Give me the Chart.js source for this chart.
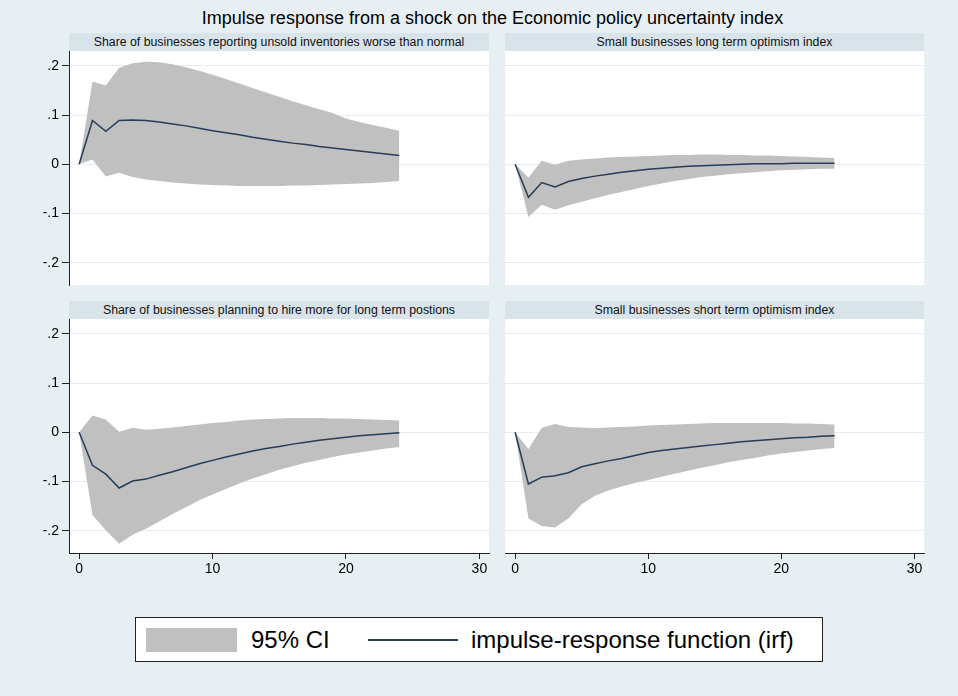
<!DOCTYPE html>
<html>
<head>
<meta charset="utf-8">
<script src="https://cdn.jsdelivr.net/npm/chart.js@4/dist/chart.umd.min.js"></script>
<style>
  body { margin: 0; background: #e8eff3; font-family: "Liberation Sans", Arial, sans-serif; }
  #graph { position: relative; width: 958px; height: 696px; background: #e8eff3; overflow: hidden; }
  .title { position: absolute; left: 0; top: 8px; width: 985px; text-align: center; font-size: 18px; color: #000; }
  .strip { position: absolute; height: 18px; line-height: 18px; background: #d9e4ea; font-size: 12.3px; text-align: center; color: #111; }
  canvas.panel { position: absolute; }
  .legend { position: absolute; left: 135px; top: 617px; width: 686px; height: 43px; background: #fff; border: 1px solid #222; }
  .legend .swatch { position: absolute; left: 10px; top: 10px; width: 91px; height: 24px; background: #c0c0c0; }
  .legend .line { position: absolute; left: 232px; top: 21px; width: 90px; height: 2px; background: #263c57; }
  .legend .txt { position: absolute; top: 0; line-height: 43px; font-size: 24px; color: #000; }
</style>
</head>
<body>
<div id="graph">
  <div class="title">Impulse response from a shock on the Economic policy uncertainty index</div>

  <div class="strip" id="s1" style="left:69px; top:33px; width:420px;"></div>
  <div class="strip" id="s2" style="left:505px; top:33px; width:419px;"></div>
  <div class="strip" id="s3" style="left:69px; top:301px; width:420px;"></div>
  <div class="strip" id="s4" style="left:505px; top:301px; width:419px;"></div>

  <canvas class="panel" id="c1" width="475" height="245" style="left:20px; top:46px;"></canvas>
  <canvas class="panel" id="c2" width="431" height="245" style="left:499px; top:46px;"></canvas>
  <canvas class="panel" id="c3" width="475" height="272" style="left:20px; top:314px;"></canvas>
  <canvas class="panel" id="c4" width="431" height="272" style="left:499px; top:314px;"></canvas>

  <div class="legend">
    <div class="swatch"></div>
    <div class="txt" style="left:115px;">95% CI</div>
    <div class="line"></div>
    <div class="txt" style="left:335px;">impulse-response function (irf)</div>
  </div>
</div>

<script>
// Steps of the impulse response (horizontal axis)
const steps = [0, 1, 2, 3, 4, 5, 6, 7, 8, 9, 10, 11, 12, 13, 14, 15, 16, 17, 18, 19, 20, 21, 22, 23, 24];

// Panel titles
const panelTitles = [
  'Share of businesses reporting unsold inventories worse than normal',
  'Small businesses long term optimism index',
  'Share of businesses planning to hire more for long term postions',
  'Small businesses short term optimism index'
];

// Tick labels
const xTicks = [0, 10, 20, 30];
const yTicks = [-0.2, -0.1, 0, 0.1, 0.2];

// Unsold inventories worse than normal
const irfInventories = [0, 0.089, 0.067, 0.089, 0.090, 0.089, 0.086, 0.082, 0.078, 0.073, 0.068, 0.064, 0.060, 0.055, 0.051, 0.047, 0.043, 0.040, 0.036, 0.033, 0.030, 0.027, 0.024, 0.021, 0.018];
const loInventories = [0, 0.010, -0.025, -0.017, -0.026, -0.031, -0.034, -0.037, -0.039, -0.041, -0.042, -0.043, -0.044, -0.044, -0.044, -0.044, -0.043, -0.043, -0.042, -0.041, -0.040, -0.039, -0.038, -0.036, -0.034];
const hiInventories = [0, 0.168, 0.160, 0.196, 0.205, 0.208, 0.207, 0.203, 0.197, 0.190, 0.182, 0.173, 0.164, 0.155, 0.146, 0.137, 0.128, 0.120, 0.112, 0.104, 0.093, 0.086, 0.080, 0.074, 0.068];

// Long term optimism
const irfLongOpt = [0, -0.067, -0.037, -0.046, -0.035, -0.029, -0.024, -0.020, -0.016, -0.013, -0.010, -0.008, -0.006, -0.004, -0.003, -0.002, -0.001, 0, 0.001, 0.001, 0.001, 0.002, 0.002, 0.002, 0.002];
const loLongOpt = [0, -0.107, -0.082, -0.092, -0.083, -0.076, -0.069, -0.062, -0.056, -0.050, -0.044, -0.039, -0.034, -0.030, -0.026, -0.023, -0.020, -0.018, -0.016, -0.014, -0.012, -0.011, -0.010, -0.009, -0.009];
const hiLongOpt = [0, -0.027, 0.007, -0.001, 0.007, 0.010, 0.012, 0.014, 0.015, 0.016, 0.017, 0.018, 0.019, 0.019, 0.020, 0.020, 0.019, 0.019, 0.018, 0.018, 0.017, 0.016, 0.015, 0.014, 0.013];

// Hiring for long term positions
const irfHiring = [0, -0.067, -0.085, -0.113, -0.099, -0.095, -0.087, -0.080, -0.072, -0.064, -0.057, -0.050, -0.044, -0.038, -0.033, -0.029, -0.024, -0.020, -0.016, -0.013, -0.010, -0.007, -0.005, -0.003, -0.001];
const loHiring = [0, -0.168, -0.199, -0.226, -0.208, -0.196, -0.181, -0.166, -0.152, -0.138, -0.126, -0.115, -0.104, -0.094, -0.085, -0.076, -0.069, -0.062, -0.056, -0.050, -0.045, -0.041, -0.037, -0.033, -0.030];
const hiHiring = [0, 0.034, 0.026, 0.001, 0.009, 0.005, 0.007, 0.010, 0.013, 0.016, 0.019, 0.021, 0.024, 0.026, 0.027, 0.028, 0.029, 0.029, 0.029, 0.028, 0.028, 0.027, 0.026, 0.025, 0.024];

// Short term optimism
const irfShortOpt = [0, -0.105, -0.091, -0.088, -0.082, -0.070, -0.064, -0.058, -0.053, -0.047, -0.041, -0.037, -0.034, -0.031, -0.028, -0.025, -0.022, -0.019, -0.017, -0.015, -0.013, -0.011, -0.010, -0.008, -0.007];
const loShortOpt = [0, -0.175, -0.190, -0.193, -0.175, -0.146, -0.129, -0.118, -0.110, -0.103, -0.097, -0.090, -0.084, -0.078, -0.072, -0.067, -0.061, -0.056, -0.052, -0.047, -0.043, -0.040, -0.037, -0.034, -0.032];
const hiShortOpt = [0, -0.034, 0.009, 0.017, 0.011, 0.010, 0.008, 0.010, 0.011, 0.012, 0.014, 0.015, 0.016, 0.017, 0.018, 0.019, 0.019, 0.019, 0.019, 0.019, 0.019, 0.018, 0.018, 0.017, 0.016];

const NAVY = '#263c57';
const CI_GRAY = '#c0c0c0';
const AXIS = '#222';

Chart.defaults.font.family = '"Liberation Sans", Arial, sans-serif';

// Stata style labels: .2, .1, 0, -.1, -.2
function fmtTick(v) {
  if (Math.abs(v) < 1e-9) return '0';
  return v.toFixed(1).replace('0.', '.');
}

function toPoints(values) {
  return steps.map((s, i) => ({ x: s, y: values[i] }));
}

// White plot region behind the data
const plotBackground = {
  id: 'plotBackground',
  beforeDraw(chart) {
    const a = chart.chartArea;
    const ctx = chart.ctx;
    ctx.save();
    ctx.fillStyle = '#fff';
    ctx.fillRect(a.left, a.top, a.right - a.left, a.bottom - a.top);
    ctx.restore();
  }
};

function makePanel(id, irf, lo, hi, showY, showX) {
  const ctx = document.getElementById(id).getContext('2d');
  return new Chart(ctx, {
    type: 'line',
    data: {
      datasets: [
        { label: 'irf', data: toPoints(irf), borderColor: NAVY, borderWidth: 1.5, pointRadius: 0, fill: false, tension: 0 },
        { label: 'lower', data: toPoints(lo), borderColor: 'rgba(0,0,0,0)', borderWidth: 0, pointRadius: 0, fill: false },
        { label: 'upper', data: toPoints(hi), borderColor: 'rgba(0,0,0,0)', borderWidth: 0, pointRadius: 0, backgroundColor: CI_GRAY, fill: 1 }
      ]
    },
    options: {
      responsive: false,
      animation: false,
      events: [],
      layout: { padding: { left: 0, top: 5, right: 6, bottom: showX ? 0 : 6 } },
      scales: {
        x: {
          type: 'linear',
          min: -0.76,
          max: 30.72,
          display: showX,
          afterBuildTicks: s => { s.ticks = xTicks.map(v => ({ value: v })); },
          afterFit: s => {
            if (showX) s.height = 33;
            s.paddingLeft = 0;
            s.paddingRight = 0;
          },
          grid: { drawOnChartArea: false, drawTicks: true, tickLength: 6, color: AXIS },
          border: { display: true, color: AXIS, width: 1 },
          ticks: { color: '#000', font: { size: 14 }, padding: 2, maxRotation: 0, autoSkip: false }
        },
        y: {
          min: -0.245,
          max: 0.23,
          afterBuildTicks: s => { s.ticks = yTicks.map(v => ({ value: v })); },
          afterFit: s => {
            s.width = showY ? 49 : 6;
            // keep the plot region exactly where the layout padding puts it
            s.paddingTop = 0;
            s.paddingBottom = 0;
          },
          grid: { color: '#e6edf1', lineWidth: 1, drawTicks: showY, tickLength: 7, tickColor: AXIS },
          border: { display: showY, color: AXIS, width: 1 },
          ticks: { display: showY, color: '#000', font: { size: 14 }, padding: 3, callback: fmtTick }
        }
      },
      plugins: {
        legend: { display: false },
        tooltip: { enabled: false }
      }
    },
    plugins: [plotBackground]
  });
}

// Panel headers
['s1', 's2', 's3', 's4'].forEach((id, i) => {
  document.getElementById(id).textContent = panelTitles[i];
});

makePanel('c1', irfInventories, loInventories, hiInventories, true, false);
makePanel('c2', irfLongOpt, loLongOpt, hiLongOpt, false, false);
makePanel('c3', irfHiring, loHiring, hiHiring, true, true);
makePanel('c4', irfShortOpt, loShortOpt, hiShortOpt, false, true);
</script>
</body>
</html>
